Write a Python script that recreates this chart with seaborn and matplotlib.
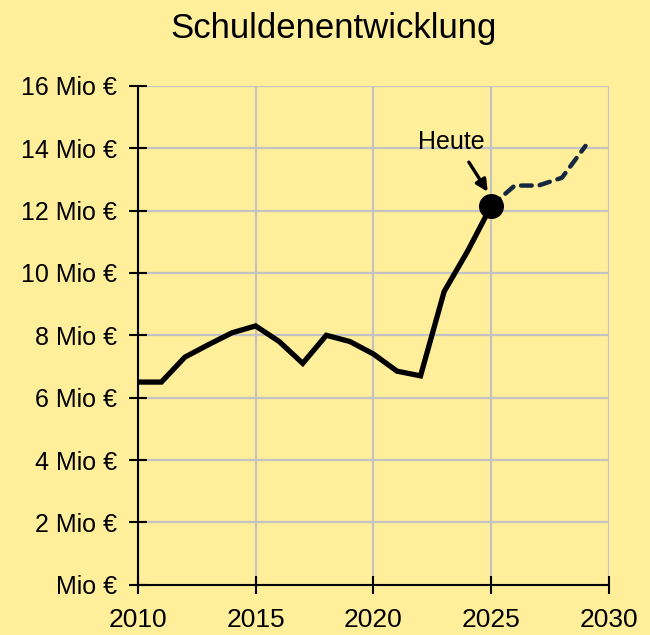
import numpy as np
import pandas as pd
import matplotlib
matplotlib.use("Agg")
import matplotlib.pyplot as plt
import seaborn as sns

# Data
years_hist = [2010, 2011, 2012, 2013, 2014, 2015, 2016, 2017, 2018, 2019,
              2020, 2021, 2022, 2023, 2024, 2025]
debt_hist = [6.5, 6.5, 7.3, 7.7, 8.08, 8.3, 7.8, 7.1, 8.0, 7.8,
             7.4, 6.85, 6.7, 9.4, 10.7, 12.15]

years_fcst = [2025, 2026, 2027, 2028, 2029]
debt_fcst = [12.15, 12.8, 12.8, 13.05, 14.07]

x_ticks = [2010, 2015, 2020, 2025, 2030]
y_ticks = [0, 2, 4, 6, 8, 10, 12, 14, 16]
y_tick_labels = ["Mio €", "2 Mio €", "4 Mio €", "6 Mio €", "8 Mio €",
                 "10 Mio €", "12 Mio €", "14 Mio €", "16 Mio €"]

BG = "#FFEE9A"

sns.set_style("ticks")
plt.rcParams["font.family"] = ["Liberation Sans", "DejaVu Sans"]

hist = pd.DataFrame({"year": years_hist, "debt": debt_hist})
fcst = pd.DataFrame({"year": years_fcst, "debt": debt_fcst})

fig = plt.figure(figsize=(6.5, 6.35), dpi=100, facecolor=BG)
ax = fig.add_axes([0.212, 0.079, 0.725, 0.786])
ax.set_facecolor(BG)

sns.lineplot(data=hist, x="year", y="debt", ax=ax, color="black", linewidth=3.8,
             solid_joinstyle="miter", zorder=3)
sns.lineplot(data=fcst, x="year", y="debt", ax=ax, color="#14283F", linewidth=3.2,
             zorder=3)
ax.lines[-1].set_linestyle((0, (2.4, 1.8)))
ax.lines[-1].set_dash_capstyle("round")

# "Heute" marker
ax.plot([years_hist[-1]], [debt_hist[-1]], "o", color="black", markersize=17,
        zorder=4, clip_on=False)
ax.annotate("", xy=(2024.85, 12.6), xytext=(2024.05, 13.55),
            arrowprops=dict(arrowstyle="-|>,head_length=0.7,head_width=0.35",
                            color="black", lw=2.4, shrinkA=0, shrinkB=0))
ax.text(2023.3, 14.2, "Heute", ha="center", va="center", fontsize=18,
        color="black")

ax.set_xlim(2010, 2030)
ax.set_ylim(0, 16)
ax.set_xticks(x_ticks)
ax.set_yticks(y_ticks)
ax.set_yticklabels(y_tick_labels)
ax.set_xlabel("")
ax.set_ylabel("")

ax.grid(True, color="#C3C3C3", linewidth=1.6, zorder=0)
ax.set_axisbelow(True)
for side in ["top", "right"]:
    ax.spines[side].set_visible(False)
for side in ["left", "bottom"]:
    ax.spines[side].set_linewidth(1.5)
    ax.spines[side].set_color("black")
    ax.spines[side].set_zorder(2)

ax.tick_params(axis="both", direction="inout", length=13.5, width=1.5,
               colors="black", labelsize=18)
ax.tick_params(axis="y", pad=8)
ax.tick_params(axis="x", pad=10, labelsize=19)

fig.text(0.513, 0.955, "Schuldenentwicklung", ha="center", va="center",
         fontsize=25, color="black")

fig.savefig("out.png", dpi=100, facecolor=BG)
